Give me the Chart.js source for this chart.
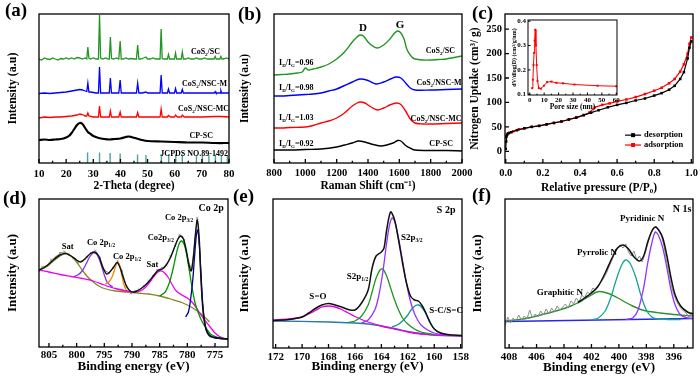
<!DOCTYPE html>
<html>
<head>
<meta charset="utf-8">
<title>CoS2 characterisation</title>
<script src="https://cdn.jsdelivr.net/npm/chart.js@4.4.1/dist/chart.umd.min.js"></script>
<style>
  body { margin: 0; background: #fff; }
  #fig { position: relative; width: 700px; height: 379px; overflow: hidden; }
  #fig canvas { position: absolute; }
  .tag { position: absolute; font: bold 19px/20px 'Liberation Serif', 'Times New Roman', serif; }
</style>
</head>
<body>
<div id="fig">
  <canvas id="xrd"></canvas>
  <canvas id="raman"></canvas>
  <canvas id="bet"></canvas>
  <canvas id="pore"></canvas>
  <canvas id="co2p"></canvas>
  <canvas id="s2p"></canvas>
  <canvas id="n1s"></canvas>
  <div class="tag" style="left:5px;top:0px">(a)</div>
  <div class="tag" style="left:238px;top:4px">(b)</div>
  <div class="tag" style="left:472px;top:3px">(c)</div>
  <div class="tag" style="left:3px;top:188px">(d)</div>
  <div class="tag" style="left:233px;top:186px">(e)</div>
  <div class="tag" style="left:472px;top:185px">(f)</div>
</div>
<script>
const SERIF = "'Liberation Serif', 'Times New Roman', serif";
Chart.defaults.font.family = SERIF;
Chart.defaults.color = '#000';

// (a) XRD, [2theta, intensity]
const xrdTicks = [10, 20, 30, 40, 50, 60, 70, 80];
const xrdSC = [[10,104],[11,103],[12,105],[13,104],[14,103.5],[15,105],[16,104],[17,103],[18,104.5],[19,104],[20,105],[21,104],[22,105],[23,104],[24,105.5],[25,105],[26,104],[27,105],[27.6,104],[28.0,116],[28.4,105],[29,104],[30,105],[31,104],[31.9,104],[32.3,148],[32.7,105],[33.5,104],[34.5,105],[35.5,104],[35.9,104],[36.3,126],[36.7,104.5],[37.5,104],[38.5,105],[39.4,104],[39.9,122],[40.3,104],[41,104],[42,105],[43,104],[44,104.5],[45,104],[45.9,104],[46.35,118],[46.8,104],[47.5,104],[48.5,105],[49.4,106],[50,104],[51,104],[52,105],[53,104],[54,104],[54.6,104],[55.0,134],[55.4,104.5],[56,104],[57.3,104],[57.7,108.5],[58.1,104],[59,104],[59.9,104],[60.3,110],[60.7,104],[61.5,104],[62.4,104],[62.8,111],[63.2,104],[64,104],[65,105],[66,104],[67,104],[68,105],[69,104],[70,104],[71,105],[72,104],[73,104],[74.5,104],[74.9,106.5],[75.3,104],[76.6,104],[77,106.5],[77.4,104],[78,104],[79,105],[80,104]];
const xrdNSCM = [[10,69.5],[12,70],[14,69.5],[16,70],[18,70.5],[20,71],[22,72],[24,73],[25,73.5],[26,73],[27,72],[27.6,71.5],[28,80],[28.4,71],[29,71],[30,70.5],[31,70],[31.9,70],[32.3,96],[32.7,70],[34,70],[35.9,70],[36.3,85],[36.7,70],[38,70],[39.4,70],[39.9,83],[40.3,70],[42,70],[44,70],[45.9,70],[46.35,80],[46.8,70],[48,70],[49.4,71],[50,70],[52,70],[54.6,70],[55.0,88],[55.4,70],[57.3,70],[57.7,74],[58.1,70],[59.9,70],[60.3,74.5],[60.7,70],[62.4,70],[62.8,73.5],[63.2,70],[66,70],[70,70],[74.6,70],[74.9,71.5],[75.2,70],[76.7,70],[77,72.5],[77.3,70],[80,70]];
const xrdNSCMC = [[10,45],[12,46],[14,45.5],[16,46],[18,46],[20,46.5],[22,47],[24,48],[25,49],[26,48.5],[27,47],[27.6,47],[28,50],[28.4,47],[30,46],[31.9,46],[32.3,57],[32.7,46],[34,46],[35.9,46],[36.3,52],[36.7,46],[39.4,46],[39.9,51],[40.3,46],[42,46],[45.9,46],[46.35,50.5],[46.8,46],[50,46],[54.6,46],[55,54],[55.4,46],[57.3,46],[57.7,47.5],[58.5,46],[59.9,46],[60.3,48],[61,46],[62.4,46],[62.8,48],[63.5,46],[66,46],[70,46],[75,46.5],[77,46.5],[80,46]];
const xrdCPSC = [[10,23],[12,23.5],[14,23],[16,23.5],[18,24],[19,24.5],[20,25.5],[21,27],[22,30],[23,34],[24,38],[25,40],[26,39],[27,35],[28,31],[29,29],[30,27],[32,25],[34,24],[36,23.5],[38,24],[40,24.5],[42,26],[43,26.5],[44,26],[46,24.5],[48,23],[50,22],[55,21.5],[60,21],[65,20.5],[70,20.5],[75,20],[80,20]];
const jcpdsPos = [27.9, 32.3, 36.2, 39.9, 46.3, 49.4, 55.1, 57.8, 60.4, 62.8, 68.0, 70.2, 72.6, 75.0, 77.2, 79.4];
const jcpdsHeight = [10.5, 10.5, 10, 9.5, 8.5, 8, 8.5, 9, 8.5, 8.5, 8, 8, 8, 8.5, 8, 8];

// (b) Raman, [shift, intensity]
const ramanTicks = [800, 1000, 1200, 1400, 1600, 1800, 2000];
const ramanSC = [[800,88],[850,88.5],[900,89],[950,90],[980,91],[1000,95],[1020,93],[1050,94],[1100,96],[1150,99],[1200,104],[1250,111],[1300,121],[1330,126],[1350,128],[1370,127],[1400,121],[1430,117],[1460,115],[1500,118],[1540,124],[1570,130],[1590,132],[1610,130],[1630,124],[1650,113],[1680,106],[1700,104],[1750,103],[1800,103],[1850,103.5],[1900,104],[1950,105.5],[2000,107]];
const ramanNSCM = [[800,67],[850,67],[900,67.5],[950,68],[1000,68.5],[1050,69],[1100,70],[1150,72],[1200,74],[1250,77.5],[1300,81],[1350,84],[1400,82.5],[1450,79],[1500,81],[1550,84.5],[1580,86],[1610,85],[1640,80],[1670,75],[1700,73],[1800,73],[1900,73.5],[2000,74]];
const ramanNSCMC = [[800,35],[850,35],[900,35.5],[1000,36],[1050,37.5],[1100,40],[1150,42],[1200,45],[1250,50],[1300,57],[1330,60],[1350,61],[1380,60],[1420,56],[1460,53],[1500,55],[1540,58],[1580,60],[1610,58.5],[1640,52],[1670,44],[1700,40],[1750,39],[1800,39],[1900,39.5],[2000,40]];
const ramanCPSC = [[800,13],[900,13],[1000,13.5],[1100,14],[1200,16],[1250,18],[1300,20],[1340,22],[1380,21],[1420,19],[1480,17],[1520,18],[1560,20],[1590,22.5],[1610,22],[1640,17.5],[1680,14],[1700,13],[1800,12.5],[1900,12.5],[2000,12]];

// (c) N2 isotherm, [P/P0, uptake] and pore size inset
const betXTicks = [0, 0.2, 0.4, 0.6, 0.8, 1.0];
const betYTicks = [0, 50, 100, 150, 200, 250];
const desorption = [[0.0,5],[0.002,20],[0.004,30],[0.008,34],[0.015,37],[0.03,39],[0.06,43],[0.1,47],[0.14,50],[0.18,52],[0.22,55],[0.26,58],[0.3,61],[0.34,65],[0.38,69],[0.42,74],[0.46,79],[0.5,84],[0.55,90],[0.6,95],[0.65,99],[0.7,104],[0.75,108],[0.8,114],[0.84,119],[0.88,126],[0.91,134],[0.94,148],[0.96,162],[0.98,190],[0.99,212],[1.0,225]];
const adsorption = [[0.0,28],[0.005,33],[0.01,36],[0.02,38],[0.04,41],[0.07,45],[0.1,47],[0.14,50],[0.18,52],[0.22,55],[0.26,58],[0.3,61],[0.34,65],[0.38,69],[0.42,74],[0.45,79],[0.48,90],[0.52,95],[0.56,98],[0.6,102],[0.65,106],[0.7,111],[0.75,117],[0.8,124],[0.84,130],[0.88,139],[0.91,148],[0.94,163],[0.96,178],[0.98,200],[0.99,220],[1.0,233]];
const poreXTicks = [0, 10, 20, 30, 40, 50, 60];
const poreYTicks = [0.1, 0.2, 0.3, 0.4];
const poreSize = [1.7, 2.2, 2.6, 3.0, 3.4, 3.8, 4.3, 4.8, 5.4, 6.3, 7.8, 9.8, 12, 15, 18.5, 23, 31, 47, 60];
const poreVolume = [0.125, 0.16, 0.22, 0.27, 0.32, 0.365, 0.30, 0.22, 0.155, 0.125, 0.123, 0.135, 0.15, 0.152, 0.147, 0.145, 0.14, 0.135, 0.133];

// (d) Co 2p, [binding energy, intensity]
const coTicks = [805, 800, 795, 790, 785, 780, 775];
const coRaw = [[806.8,76],[806.2,80],[805.4,81],[804.6,87],[803.8,90],[803,94],[802.2,95],[801.4,92],[800.6,89],[799.8,85],[799,86],[798.2,90],[797.4,94],[796.6,96],[795.8,89],[795,77],[794.2,74],[793.4,79],[792.6,86],[791.8,76],[791,60],[790.2,54],[789.4,56],[788.6,57],[787.8,61],[787,66],[786.2,71],[785.4,77],[784.6,79],[783.8,82],[783,91],[782.2,101],[781.4,112],[780.6,107],[779.8,85],[779.2,78],[778.6,108],[778.2,129],[777.8,104],[777.2,40],[776.6,18],[775.8,11],[775,10],[774,9],[772.65,8]];
const coEnvelope = [[806.8,77],[806,79],[805,83],[804,88],[803,92],[802,93.5],[801,91],[800,87],[799.3,85],[798.5,88],[797.5,93.5],[796.8,95],[796,91],[795.3,80],[794.6,73],[794,75],[793.3,80],[792.7,84.5],[792.2,80],[791.6,70],[791,61],[790.2,55.5],[789.5,55],[788.8,57],[788,60],[787,65],[786,72],[785.3,76.5],[784.5,78],[783.8,82],[783,90],[782.3,100],[781.7,108],[781.2,111],[780.7,108],[780.2,97],[779.7,82],[779.3,76],[778.9,90],[778.5,115],[778.2,127],[777.9,112],[777.6,75],[777.3,45],[777,28],[776.6,17],[776,11],[775,9],[774,8.5],[772.65,8]];
const coSatBackground = [[806.8,77],[805,75],[803,72.5],[801,70.5],[799,68.5],[797,66],[795,62],[793,58.5],[791,56],[789.5,55],[788.5,56],[787.5,60],[786.5,67],[785.7,73],[785,76],[784.3,75],[783.5,70],[782.7,62],[782,56],[781,52],[780,49],[779,44],[778,36],[777,28],[776,21],[775,14],[774,10],[773,8],[772.65,7.5]];
const coSatHigh = [[806.8,77],[805.5,80],[804.5,84.5],[803.5,89],[802.5,92.5],[801.8,93.5],[801,91],[800,85],[799,77],[798,70],[797,65],[796,61],[795,58.5],[793,56],[791,55],[789,54],[787,53],[785,51],[783,48],[781,44.5],[779,39],[777.5,33],[776.5,28],[776,25]];
const co2p12Main = [[800.5,70.5],[799.8,72],[799,76],[798.3,83],[797.6,90.5],[797,94],[796.5,93.5],[796,89],[795.5,81],[795,72],[794.5,65],[794,62],[793.5,60]];
const co2p12Minor = [[794.8,63],[794.2,65],[793.6,70],[793.1,78],[792.7,84],[792.3,83],[791.9,74],[791.5,63],[791,57],[790.5,55]];
const co2p32Broad = [[785,51],[784,55],[783.2,65],[782.5,80],[782,93],[781.5,103],[781.1,106],[780.6,103],[780.1,92],[779.6,75],[779.1,58],[778.6,44],[778,34],[777.3,25],[776.5,18],[775.8,13],[775,10.5],[774,9],[772.65,8]];
const co2p32Sharp = [[780.3,30],[779.8,35],[779.4,48],[779,68],[778.7,90],[778.4,110],[778.15,117],[777.9,108],[777.6,80],[777.3,50],[777,30],[776.7,20],[776.3,14],[775.8,11],[775,9.5],[774,8.5],[772.65,8]];

// (e) S 2p
const sTicks = [172, 170, 168, 166, 164, 162, 160, 158];
const sEnvelope = [[172.2,27.5],[171,28.5],[170,31],[169.5,35],[169,39.5],[168.5,43],[168,44.5],[167.5,43],[167,41],[166.5,38.5],[166,38],[165.5,45],[165,58],[164.7,80],[164.4,92],[164,96],[163.8,100],[163.6,118],[163.3,136],[163,128],[162.7,108],[162.4,85],[162.1,65],[161.8,52],[161.5,48],[161.2,47],[160.9,42],[160.6,34],[160.3,25],[160,19],[159.5,15],[159,13.5],[158.5,13],[157.9,12.5]];
const sBackground = [[172.2,27],[168,26],[166,25],[165,24],[164,22],[163,19.5],[162,16.5],[161,14.5],[160,13],[157.9,12]];
const sSO = [[172.2,28],[171,29],[170,31],[169.5,34],[169,37.5],[168.5,41],[168,42],[167.5,41],[167,38.5],[166.5,35],[166,31.5],[165.5,28.5],[165,26],[164,22],[163,19],[162,16],[161,14],[160,13],[157.9,12]];
const s2p12 = [[166.5,25.5],[166,27],[165.5,32],[165,43],[164.7,56],[164.4,70],[164.1,78],[163.9,79],[163.6,72],[163.3,60],[163,48],[162.7,38],[162.4,30],[162,24],[161.5,19],[161,16],[160.5,14.5],[160,13.5]];
const s2p32 = [[165.5,25],[165,28],[164.5,38],[164.2,52],[163.9,75],[163.6,105],[163.4,122],[163.2,130],[163,127],[162.8,116],[162.5,95],[162.2,72],[161.9,52],[161.6,38],[161.3,29],[161,23],[160.5,18],[160,15],[159.5,13.5],[159,13]];
const sSC = [[163.2,21],[162.8,23],[162.4,27],[162,33],[161.7,39],[161.4,42.5],[161.2,43],[161,41.5],[160.7,36],[160.4,28],[160.1,21],[159.8,16.5],[159.4,14],[159,13]];

// (f) N 1s
const nTicks = [408, 406, 404, 402, 400, 398, 396];
const nRaw = [[408.3,22],[408.1,31],[407.9,25],[407.7,30],[407.5,27],[407.3,33],[407.1,28],[406.9,32],[406.7,29],[406.5,38],[406.3,30],[406.1,34],[405.9,31],[405.7,37],[405.5,33],[405.3,39],[405.1,34],[404.9,40],[404.7,36],[404.5,42],[404.3,38],[404.1,41],[403.9,44],[403.7,40],[403.5,47],[403.3,44],[403.1,50],[402.9,46],[402.7,53],[402.5,50],[402.3,56],[402.1,54],[401.9,60],[401.7,58],[401.5,63],[401.3,66],[401.1,70],[400.9,75],[400.7,82],[400.5,88],[400.3,95],[400.1,100],[399.9,103],[399.7,100],[399.5,104],[399.3,96],[399.1,92],[398.9,97],[398.7,88],[398.5,92],[398.3,86],[398.1,94],[397.9,104],[397.7,113],[397.5,119],[397.3,122],[397.1,118],[396.9,112],[396.7,101],[396.5,84],[396.3,70],[396.1,58],[395.9,50],[395.7,44],[395.5,40],[395.3,37],[395.1,35],[394.9,31],[394.7,36],[394.6,32]];
const nEnvelope = [[403,45.5],[402.5,50],[402,55],[401.5,62],[401,75],[400.5,90],[400.1,100],[399.7,103],[399.3,99],[398.9,91],[398.5,87],[398.2,92],[397.9,106],[397.6,117],[397.35,121],[397.1,118],[396.8,110],[396.5,92],[396.2,70],[395.9,53],[395.5,42],[395,36],[394.6,34]];
const nBackground = [[408.3,26.5],[394.6,29.5]];
const nGraphitic = [[408.3,27],[407,29],[406,32],[405,35.5],[404,39.5],[403.5,42],[403,45],[402.5,49],[402,53],[401.7,55.5],[401.4,56.5],[401,55.5],[400.5,53],[400,49.5],[399.5,45.5],[399,42],[398.5,39],[398,37],[397,35],[396,33.5],[395,32.5],[394.6,32]];
const nPyrrolic = [[402,28],[401.5,30],[401,37],[400.6,50],[400.2,68],[399.8,83],[399.5,88],[399.2,85],[398.8,72],[398.4,53],[398,38],[397.6,31],[397.2,29],[396.5,28.5],[395.5,28.5]];
const nPyridinic = [[399.5,28.5],[399,30],[398.6,38],[398.2,60],[397.9,85],[397.6,105],[397.35,116],[397.1,112],[396.8,100],[396.5,80],[396.2,58],[395.9,43],[395.5,33],[395,30],[394.6,29.5]];

const pts = pairs => pairs.map(([x, y]) => ({x: x, y: y}));

function line(pairs, color, width, extra) {
  return Object.assign({
    data: pts(pairs), borderColor: color, backgroundColor: color,
    borderWidth: width, pointRadius: 0, fill: false, tension: 0
  }, extra || {});
}

// box around the plot + inward tick marks
const framePlugin = {
  id: 'frame',
  afterDatasetsDraw(chart, args, opts) {
    const {ctx, chartArea: a} = chart;
    const len = opts.len || 4;
    const marks = (scale, minor) => {
      const vals = scale.ticks.map(t => t.value);
      const out = vals.map(v => [v, len]);
      if (minor && vals.length > 1) {
        const step = vals[1] - vals[0];
        for (let i = -1; i < vals.length; i++) {
          const m = vals[0] + (i + 0.5) * step;
          if (m >= scale.min && m <= scale.max) out.push([m, len * 0.55]);
        }
      }
      return out;
    };
    ctx.save();
    ctx.strokeStyle = '#000';
    ctx.lineWidth = opts.width || 1.3;
    ctx.strokeRect(a.left, a.top, a.right - a.left, a.bottom - a.top);
    ctx.beginPath();
    marks(chart.scales.x, true).forEach(([v, l]) => {
      const px = chart.scales.x.getPixelForValue(v);
      ctx.moveTo(px, a.bottom);
      ctx.lineTo(px, a.bottom - l);
    });
    if (opts.yTicks) {
      marks(chart.scales.y, false).forEach(([v, l]) => {
        const py = chart.scales.y.getPixelForValue(v);
        ctx.moveTo(a.left, py);
        ctx.lineTo(a.left + l, py);
      });
    }
    ctx.stroke();
    ctx.restore();
  }
};

// text notes placed in data coordinates; parts starting with '_' are subscripts
const notesPlugin = {
  id: 'notes',
  afterDatasetsDraw(chart, args, opts) {
    if (!opts.items) return;
    const {ctx, scales} = chart;
    ctx.save();
    opts.items.forEach(it => {
      let x = scales.x.getPixelForValue(it.x);
      const y = scales.y.getPixelForValue(it.y);
      const size = it.size || 9;
      if (it.key !== undefined) {
        const ds = chart.data.datasets[it.key];
        ctx.strokeStyle = ds.borderColor;
        ctx.fillStyle = ds.borderColor;
        ctx.lineWidth = 1.2;
        ctx.beginPath();
        ctx.moveTo(x, y);
        ctx.lineTo(x + 16, y);
        ctx.stroke();
        ctx.fillRect(x + 6, y - 2, 4, 4);
        x += 19;
      }
      const segs = it.parts.map(p => p[0] === '_'
        ? {t: p.slice(1), s: size * 0.62, dy: size * 0.3}
        : {t: p, s: size, dy: 0});
      let total = 0;
      segs.forEach(g => {
        ctx.font = 'bold ' + g.s + 'px ' + SERIF;
        g.w = ctx.measureText(g.t).width;
        total += g.w;
      });
      const align = it.align || (it.key !== undefined ? 'left' : 'center');
      let cx = align === 'right' ? x - total : align === 'left' ? x : x - total / 2;
      ctx.fillStyle = '#000';
      ctx.textBaseline = 'middle';
      ctx.textAlign = 'left';
      segs.forEach(g => {
        ctx.font = 'bold ' + g.s + 'px ' + SERIF;
        ctx.fillText(g.t, cx, y + g.dy);
        cx += g.w;
      });
    });
    ctx.restore();
  }
};

Chart.register(framePlugin, notesPlugin);

function axisX(min, max, ticks, title, o) {
  return {
    type: 'linear', position: 'bottom', min: min, max: max, reverse: !!o.reverse,
    grid: {display: false, drawTicks: false}, border: {display: false},
    afterBuildTicks: s => { s.ticks = ticks.map(v => ({value: v})); },
    ticks: {autoSkip: false, maxRotation: 0, padding: o.pad, font: {size: o.size, weight: 'bold'},
            callback: o.fmt || (v => String(v))},
    title: {display: true, text: title, font: {size: o.tsize, weight: 'bold'}, padding: {top: 0, bottom: o.tpad}}
  };
}

function axisY(min, max, title, o) {
  const ax = {
    type: 'linear', position: 'left', min: min, max: max,
    grid: {display: false, drawTicks: false}, border: {display: false},
    ticks: {display: false},
    title: {display: true, text: title, font: {size: o.tsize, weight: 'bold'}, padding: {top: o.tpad, bottom: 0}}
  };
  if (o.ticks) {
    ax.afterBuildTicks = s => { s.ticks = o.ticks.map(v => ({value: v})); };
    ax.ticks = {display: true, autoSkip: false, padding: o.pad, font: {size: o.size, weight: 'bold'},
                callback: o.fmt || (v => String(v))};
  }
  return ax;
}

// box = canvas rect on the page, area = wanted plot rect on the page
function panel(id, box, area, datasets, sx, sy, plugins) {
  const cv = document.getElementById(id);
  cv.width = box.w;
  cv.height = box.h;
  cv.style.left = box.x + 'px';
  cv.style.top = box.y + 'px';
  sx.afterFit = s => { s.height = box.y + box.h - area.b; s.paddingLeft = 0; s.paddingRight = 0; };
  sy.afterFit = s => { s.width = area.l - box.x; s.paddingTop = 0; s.paddingBottom = 0; };
  return new Chart(cv, {
    type: 'line',
    data: {datasets: datasets},
    options: {
      responsive: false,
      animation: false,
      devicePixelRatio: 1,
      layout: {padding: {left: 0, top: area.t - box.y, right: box.x + box.w - area.r, bottom: 0}},
      scales: {x: sx, y: sy},
      plugins: Object.assign({legend: {display: false}, tooltip: {enabled: false}}, plugins)
    }
  });
}

const GREEN = 'rgb(34,150,34)', BLUE = 'rgb(0,0,255)', RED = 'rgb(255,0,0)';

// (a)
const sticks = [];
jcpdsPos.forEach((x, i) => { sticks.push([x, 0], [x, jcpdsHeight[i]], [x, null]); });
panel('xrd', {x: 0, y: 0, w: 242, h: 196}, {l: 39, t: 14, r: 229, b: 163}, [
  line(xrdSC, GREEN, 1.3),
  line(xrdNSCM, BLUE, 1.3),
  line(xrdNSCMC, RED, 1.3),
  line(xrdCPSC, '#000', 2.2, {tension: 0.3}),
  line(sticks, 'rgb(74,163,163)', 1.4, {spanGaps: false})
], axisX(10, 80, xrdTicks, '2-Theta (degree)', {pad: 4.5, size: 11, tsize: 11.5, tpad: 2.8}),
   axisY(0, 149, 'Intensity (a.u)', {tsize: 12, tpad: 5.8}),
   {frame: {}, notes: {items: [
     {x: 76.7, y: 111, parts: ['CoS', '_2', '/SC'], align: 'right', size: 8},
     {x: 79.3, y: 79, parts: ['CoS', '_2', '/NSC-M'], align: 'right', size: 8},
     {x: 80, y: 54, parts: ['CoS', '_2', '/NSC-MC'], align: 'right', size: 8},
     {x: 74.1, y: 27, parts: ['CP-SC'], align: 'right', size: 8},
     {x: 79.6, y: 9, parts: ['JCPDS NO.89-1492'], align: 'right', size: 8}
   ]}});

// (b)
panel('raman', {x: 233, y: 0, w: 247, h: 196}, {l: 274, t: 14, r: 462, b: 163}, [
  line(ramanSC, GREEN, 1.4, {tension: 0.35}),
  line(ramanNSCM, BLUE, 1.4, {tension: 0.35}),
  line(ramanNSCMC, RED, 1.4, {tension: 0.35}),
  line(ramanCPSC, '#000', 1.4, {tension: 0.35})
], axisX(800, 2000, ramanTicks, 'Raman Shift (cm\u207B\u00B9)', {pad: 4, size: 10.5, tsize: 11.5, tpad: 3}),
   axisY(0, 149, 'Intensity (a.u)', {tsize: 11.5, tpad: 5}),
   {frame: {}, notes: {items: [
     {x: 1955, y: 112, parts: ['CoS', '_2', '/SC'], align: 'right', size: 8},
     {x: 1997, y: 80, parts: ['CoS', '_2', '/NSC-M'], align: 'right', size: 8},
     {x: 1997, y: 44, parts: ['CoS', '_2', '/NSC-MC'], align: 'right', size: 8},
     {x: 1942, y: 19, parts: ['CP-SC'], align: 'right', size: 8},
     {x: 1368, y: 135, parts: ['D'], size: 11},
     {x: 1604, y: 138, parts: ['G'], size: 11},
     {x: 832, y: 100, parts: ['I', '_D', '/I', '_G', '=0.96'], align: 'left', size: 8},
     {x: 832, y: 75, parts: ['I', '_D', '/I', '_G', '=0.98'], align: 'left', size: 8},
     {x: 832, y: 45, parts: ['I', '_D', '/I', '_G', '=1.03'], align: 'left', size: 8},
     {x: 832, y: 19, parts: ['I', '_D', '/I', '_G', '=0.92'], align: 'left', size: 8}
   ]}});

// (c)
const marker = {pointRadius: 1.8, pointStyle: 'rect', pointBorderWidth: 0};
panel('bet', {x: 466, y: 0, w: 234, h: 196}, {l: 505, t: 14, r: 693, b: 163}, [
  line(desorption, '#000', 1.2, marker),
  line(adsorption, RED, 1.2, marker)
], axisX(-0.004, 1.009, betXTicks, 'Relative pressure (P/P\u2080)', {pad: 3.5, size: 10.5, tsize: 11.5, tpad: 1.5, fmt: v => v.toFixed(1)}),
   axisY(-24, 281, 'Nitrogen Uptake (cm\u00B3/ g)', {tsize: 11.5, tpad: 2, ticks: betYTicks, pad: 3, size: 10.5}),
   {frame: {yTicks: true}, notes: {items: [
     {key: 0, x: 0.643, y: 33, parts: ['desorption'], size: 8.5},
     {key: 1, x: 0.643, y: 12.8, parts: ['adsorption'], size: 8.5}
   ]}});

const poreData = poreSize.map((d, i) => [d, poreVolume[i]]);
panel('pore', {x: 506, y: 16, w: 116, h: 98}, {l: 528, t: 19, r: 617, b: 95}, [
  line(poreData, RED, 1, {pointRadius: 1.4, pointStyle: 'rect', pointBorderWidth: 0})
], axisX(-1.2, 60.5, poreXTicks, 'Pore size (nm)', {pad: 0.5, size: 7, tsize: 7.5, tpad: 2.5}),
   axisY(0.097, 0.405, 'dV/dlog(D) (cm\u00B3/g/nm)', {tsize: 6, tpad: 5, ticks: poreYTicks, pad: 2, size: 7, fmt: v => v.toFixed(1)}),
   {frame: {yTicks: true, len: 2.5, width: 1}});

// (d)
panel('co2p', {x: 0, y: 186, w: 242, h: 193}, {l: 39, t: 199, r: 228, b: 347}, [
  line(coEnvelope, '#111', 1.4, {tension: 0.3}),
  line(co2p32Sharp, 'rgb(0,0,140)', 1.3, {tension: 0.3}),
  line(co2p32Broad, 'rgb(0,150,0)', 1.3, {tension: 0.3}),
  line(coSatBackground, 'rgb(240,0,240)', 1.3, {tension: 0.3}),
  line(co2p12Minor, 'rgb(245,135,0)', 1.3, {tension: 0.3}),
  line(co2p12Main, 'rgb(135,45,235)', 1.3, {tension: 0.3}),
  line(coSatHigh, 'rgb(135,135,35)', 1.3, {tension: 0.3}),
  line(coRaw, 'rgb(150,150,150)', 1, {pointRadius: 1.5, pointStyle: 'crossRot'})
], axisX(772.65, 806.8, coTicks, 'Binding energy (eV)', {reverse: true, pad: 1.5, size: 11, tsize: 13, tpad: 4.2}),
   axisY(0, 148, 'Intensity (a.u)', {tsize: 13, tpad: 5.2}),
   {frame: {}, notes: {items: [
     {x: 775.7, y: 139, parts: ['Co 2p'], size: 10},
     {x: 781.5, y: 129, parts: ['Co 2p', '_3/2'], size: 8.5},
     {x: 784.8, y: 109, parts: ['Co2p', '_3/2'], size: 8.5},
     {x: 786.3, y: 82, parts: ['Sat'], size: 8.5},
     {x: 790.9, y: 90, parts: ['Co 2p', '_1/2'], size: 8.5},
     {x: 795.6, y: 104, parts: ['Co 2p', '_1/2'], size: 8.5},
     {x: 801.6, y: 100, parts: ['Sat'], size: 8.5}
   ]}});

// (e)
panel('s2p', {x: 233, y: 186, w: 247, h: 193}, {l: 273, t: 199, r: 462, b: 348}, [
  line(sEnvelope, '#111', 1.5, {tension: 0.3}),
  line(s2p32, 'rgb(150,50,255)', 1.3, {tension: 0.3}),
  line(s2p12, 'rgb(30,150,30)', 1.3, {tension: 0.3}),
  line(sSC, 'rgb(20,150,150)', 1.3, {tension: 0.3}),
  line(sSO, 'rgb(230,0,230)', 1.3, {tension: 0.3}),
  line(sBackground, 'rgb(40,120,170)', 1.3, {tension: 0.3})
], axisX(157.9, 172.2, sTicks, 'Binding energy (eV)', {reverse: true, pad: 2.5, size: 11, tsize: 13, tpad: 4.2}),
   axisY(0, 149, 'Intensity (a.u)', {tsize: 13, tpad: 4.2}),
   {frame: {}, notes: {items: [
     {x: 159.1, y: 138, parts: ['S 2p'], size: 10},
     {x: 161.7, y: 110, parts: ['S2p', '_3/2'], size: 9},
     {x: 165.8, y: 71, parts: ['S2p', '_1/2'], size: 9},
     {x: 168.8, y: 51, parts: ['S=O'], size: 9},
     {x: 159.1, y: 37, parts: ['S-C/S=C'], size: 9}
   ]}});

// (f)
panel('n1s', {x: 466, y: 186, w: 234, h: 193}, {l: 505, t: 199, r: 693, b: 348}, [
  line(nEnvelope, '#111', 1.5, {tension: 0.3}),
  line(nRaw, 'rgb(140,140,140)', 1),
  line(nPyridinic, 'rgb(150,50,255)', 1.3, {tension: 0.3}),
  line(nPyrrolic, 'rgb(20,165,150)', 1.3, {tension: 0.3}),
  line(nGraphitic, 'rgb(45,145,45)', 1.4, {tension: 0.3}),
  line(nBackground, 'rgb(40,40,230)', 1.4)
], axisX(394.6, 408.3, nTicks, 'Binding energy (eV)', {reverse: true, pad: 3, size: 11, tsize: 13, tpad: 3.2}),
   axisY(0, 149, 'Intensity (a.u)', {tsize: 13, tpad: 4.2}),
   {frame: {}, notes: {items: [
     {x: 395.4, y: 139, parts: ['N 1s'], size: 10},
     {x: 398.3, y: 129, parts: ['Pyridinic N'], size: 9},
     {x: 401.6, y: 95, parts: ['Pyrrolic N'], size: 9},
     {x: 404.3, y: 55, parts: ['Graphitic N'], size: 9}
   ]}});
</script>
</body>
</html>
